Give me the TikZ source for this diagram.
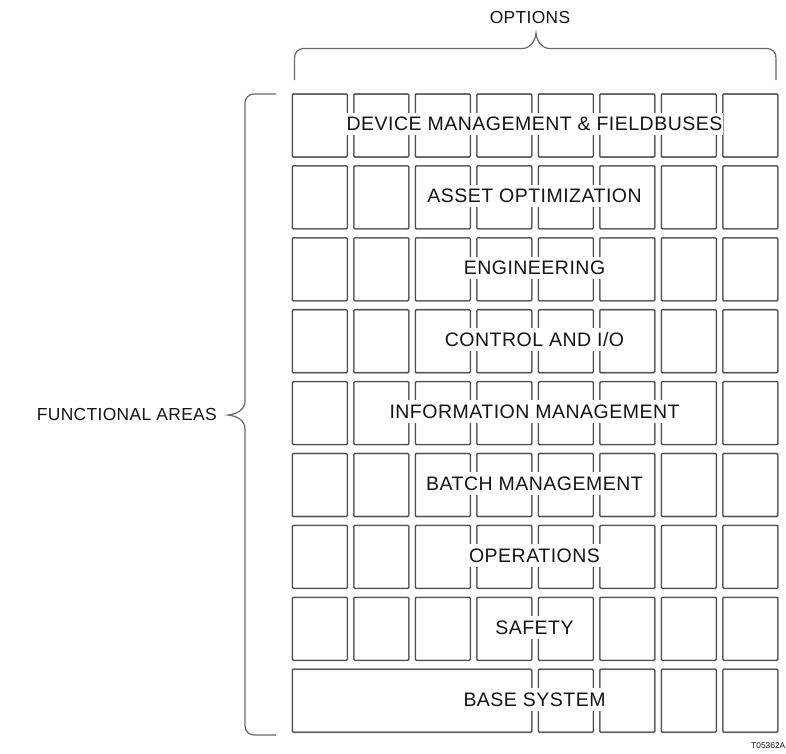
\documentclass[tikz,border=0pt]{standalone}
\usepackage{fontspec}
\setmainfont{Liberation Sans}
\newfontfamily\arealabel[LetterSpace=2.5]{Liberation Sans}
\newfontfamily\sidelabel[LetterSpace=2.0]{Liberation Sans}
\definecolor{cellgray}{RGB}{125,125,125}
\definecolor{celldark}{RGB}{55,55,55}
\definecolor{bracegray}{RGB}{105,105,105}
\definecolor{labelink}{RGB}{20,20,20}

\tikzset{
  cell/.style={draw=cellgray, line width=0.55pt, double=celldark, double distance=0.5pt, rounded corners=1pt},
  area/.style={fill=white, inner xsep=1pt, inner ysep=4.5pt, text height=13.6pt, text depth=0pt,
               text=labelink, font=\arealabel\fontsize{19.5}{21}\selectfont},
  side/.style={inner sep=0pt, text=labelink, font=\sidelabel\fontsize{17.4}{20}\selectfont},
  bracepath/.style={draw=bracegray, line width=1.2pt},
}

\begin{document}
\begin{tikzpicture}[x=1pt, y=-1pt]
  \useasboundingbox (0,0) rectangle (786,753);

  \foreach \r in {0,...,7}
    \foreach \c in {0,...,7}
      \draw[cell] ({292.3+61.5*\c},{94+71.9*\r}) rectangle ++(55,63);
  \draw[cell] (292.3,669.2) rectangle ++(239.5,63);
  \foreach \c in {4,...,7}
    \draw[cell] ({292.3+61.5*\c},669.2) rectangle ++(55,63);

  \foreach \nm/\txt [count=\r from 0] in {devmgmt/{DEVICE MANAGEMENT \& FIELDBUSES},
      assetopt/{ASSET OPTIMIZATION}, engineering/{ENGINEERING}, controlio/{CONTROL AND I/O},
      infomgmt/{INFORMATION MANAGEMENT}, batchmgmt/{BATCH MANAGEMENT},
      operations/{OPERATIONS}, safety/{SAFETY}, basesys/{BASE SYSTEM}}
    \node[area] (\nm) at (534.5,{94+71.9*\r+30}) {\txt};

  \draw[bracepath, rounded corners=9pt] (294.5,80) -- (294.5,48.5) -- (522,48.5);
  \draw[bracepath] (522,48.5) .. controls (530,48.5) and (535,42) .. (536,33)
                              .. controls (537,42) and (542,48.5) .. (550,48.5);
  \draw[bracepath, rounded corners=9pt] (550,48.5) -- (776,48.5) -- (776,80);
  \node[side] (options) at (530,18) {OPTIONS};

  \draw[bracepath, rounded corners=9pt] (276,94) -- (245,94) -- (245,401);
  \draw[bracepath] (245,401) .. controls (245,409) and (238,414) .. (228,415)
                             .. controls (238,416) and (245,421) .. (245,429);
  \draw[bracepath, rounded corners=9pt] (245,429) -- (245,735) -- (276,735);
  \node[side, anchor=east] (funcareas) at (217,415) {FUNCTIONAL AREAS};

  \node[anchor=west, inner sep=0pt, text=labelink, font=\fontsize{8.4}{10}\selectfont] (drawno) at (751,746) {T05362A};
\end{tikzpicture}
\end{document}
